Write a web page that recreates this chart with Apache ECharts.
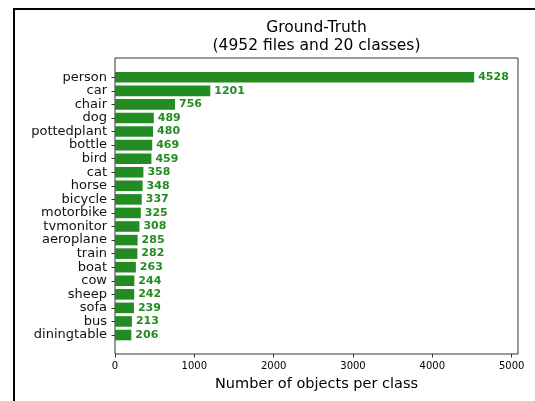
<!DOCTYPE html>
<html>
<head>
<meta charset="utf-8">
<script src="https://cdn.jsdelivr.net/npm/echarts@6/dist/echarts.min.js"></script>
<style>
html,body{margin:0;padding:0;background:#fff;}
#main{width:535px;height:401px;}
</style>
</head>
<body>
<div id="main"></div>
<script>
var categories = ["person","car","chair","dog","pottedplant","bottle","bird","cat","horse","bicycle","motorbike","tvmonitor","aeroplane","train","boat","cow","sheep","sofa","bus","diningtable"];
var counts = [4528,1201,756,489,480,469,459,358,348,337,325,308,285,282,263,244,242,239,213,206];
var xTicks = [0,1000,2000,3000,4000,5000];
var titleText = "Ground-Truth\n(4952 files and 20 classes)";
var xAxisName = "Number of objects per class";

var FONT = "DejaVu Sans";
var GREEN = "#228B22";
var chart = echarts.init(document.getElementById('main'), null, {renderer:'canvas'});
chart.setOption({
  animation: false,
  backgroundColor: '#fff',
  graphic: [
    {type:'rect', shape:{x:14, y:9, width:1000, height:1000}, style:{fill:'none', stroke:'#000', lineWidth:2}, silent:true},
    {type:'text', x:316.5, y:19.5, style:{text:titleText, font:'15.5px "DejaVu Sans"', textAlign:'center', textVerticalAlign:'top', lineHeight:17.5, fill:'#000'}}
  ],
  grid: [
    {left:115, right:17, top:58, bottom:47, show:true, borderColor:'#333', borderWidth:1, backgroundColor:'transparent'},
    {left:115, right:17, top:70.5, bottom:59.2, show:false}
  ],
  xAxis: [
    {gridIndex:0, type:'value', min:0, max:5080, show:false},
    {gridIndex:1, type:'value', min:0, max:5080, interval:1000, offset:12.2,
     axisLine:{show:false}, splitLine:{show:false},
     axisTick:{show:true, length:3.5, lineStyle:{color:'#333'}, customValues:xTicks},
     axisLabel:{fontFamily:FONT, fontSize:10, color:'#000', margin:7.5, customValues:xTicks,
                formatter:function(v){return String(v);}},
     name:xAxisName, nameLocation:'middle', nameGap:23,
     nameTextStyle:{fontFamily:FONT, fontSize:14.5, color:'#000'}}
  ],
  yAxis: [
    {gridIndex:0, type:'value', show:false},
    {gridIndex:1, type:'category', data:categories, inverse:true,
     axisLine:{show:false},
     axisTick:{show:true, alignWithLabel:true, length:3.5, lineStyle:{color:'#333'}},
     axisLabel:{fontFamily:FONT, fontSize:13, color:'#111', margin:8, interval:0}}
  ],
  series: [{
    type:'bar', xAxisIndex:1, yAxisIndex:1, data:counts, barWidth:'78%',
    itemStyle:{color:GREEN},
    label:{show:true, position:'right', distance:4, fontFamily:FONT, fontSize:11, fontWeight:'bold', color:GREEN}
  }]
});
</script>
</body>
</html>
